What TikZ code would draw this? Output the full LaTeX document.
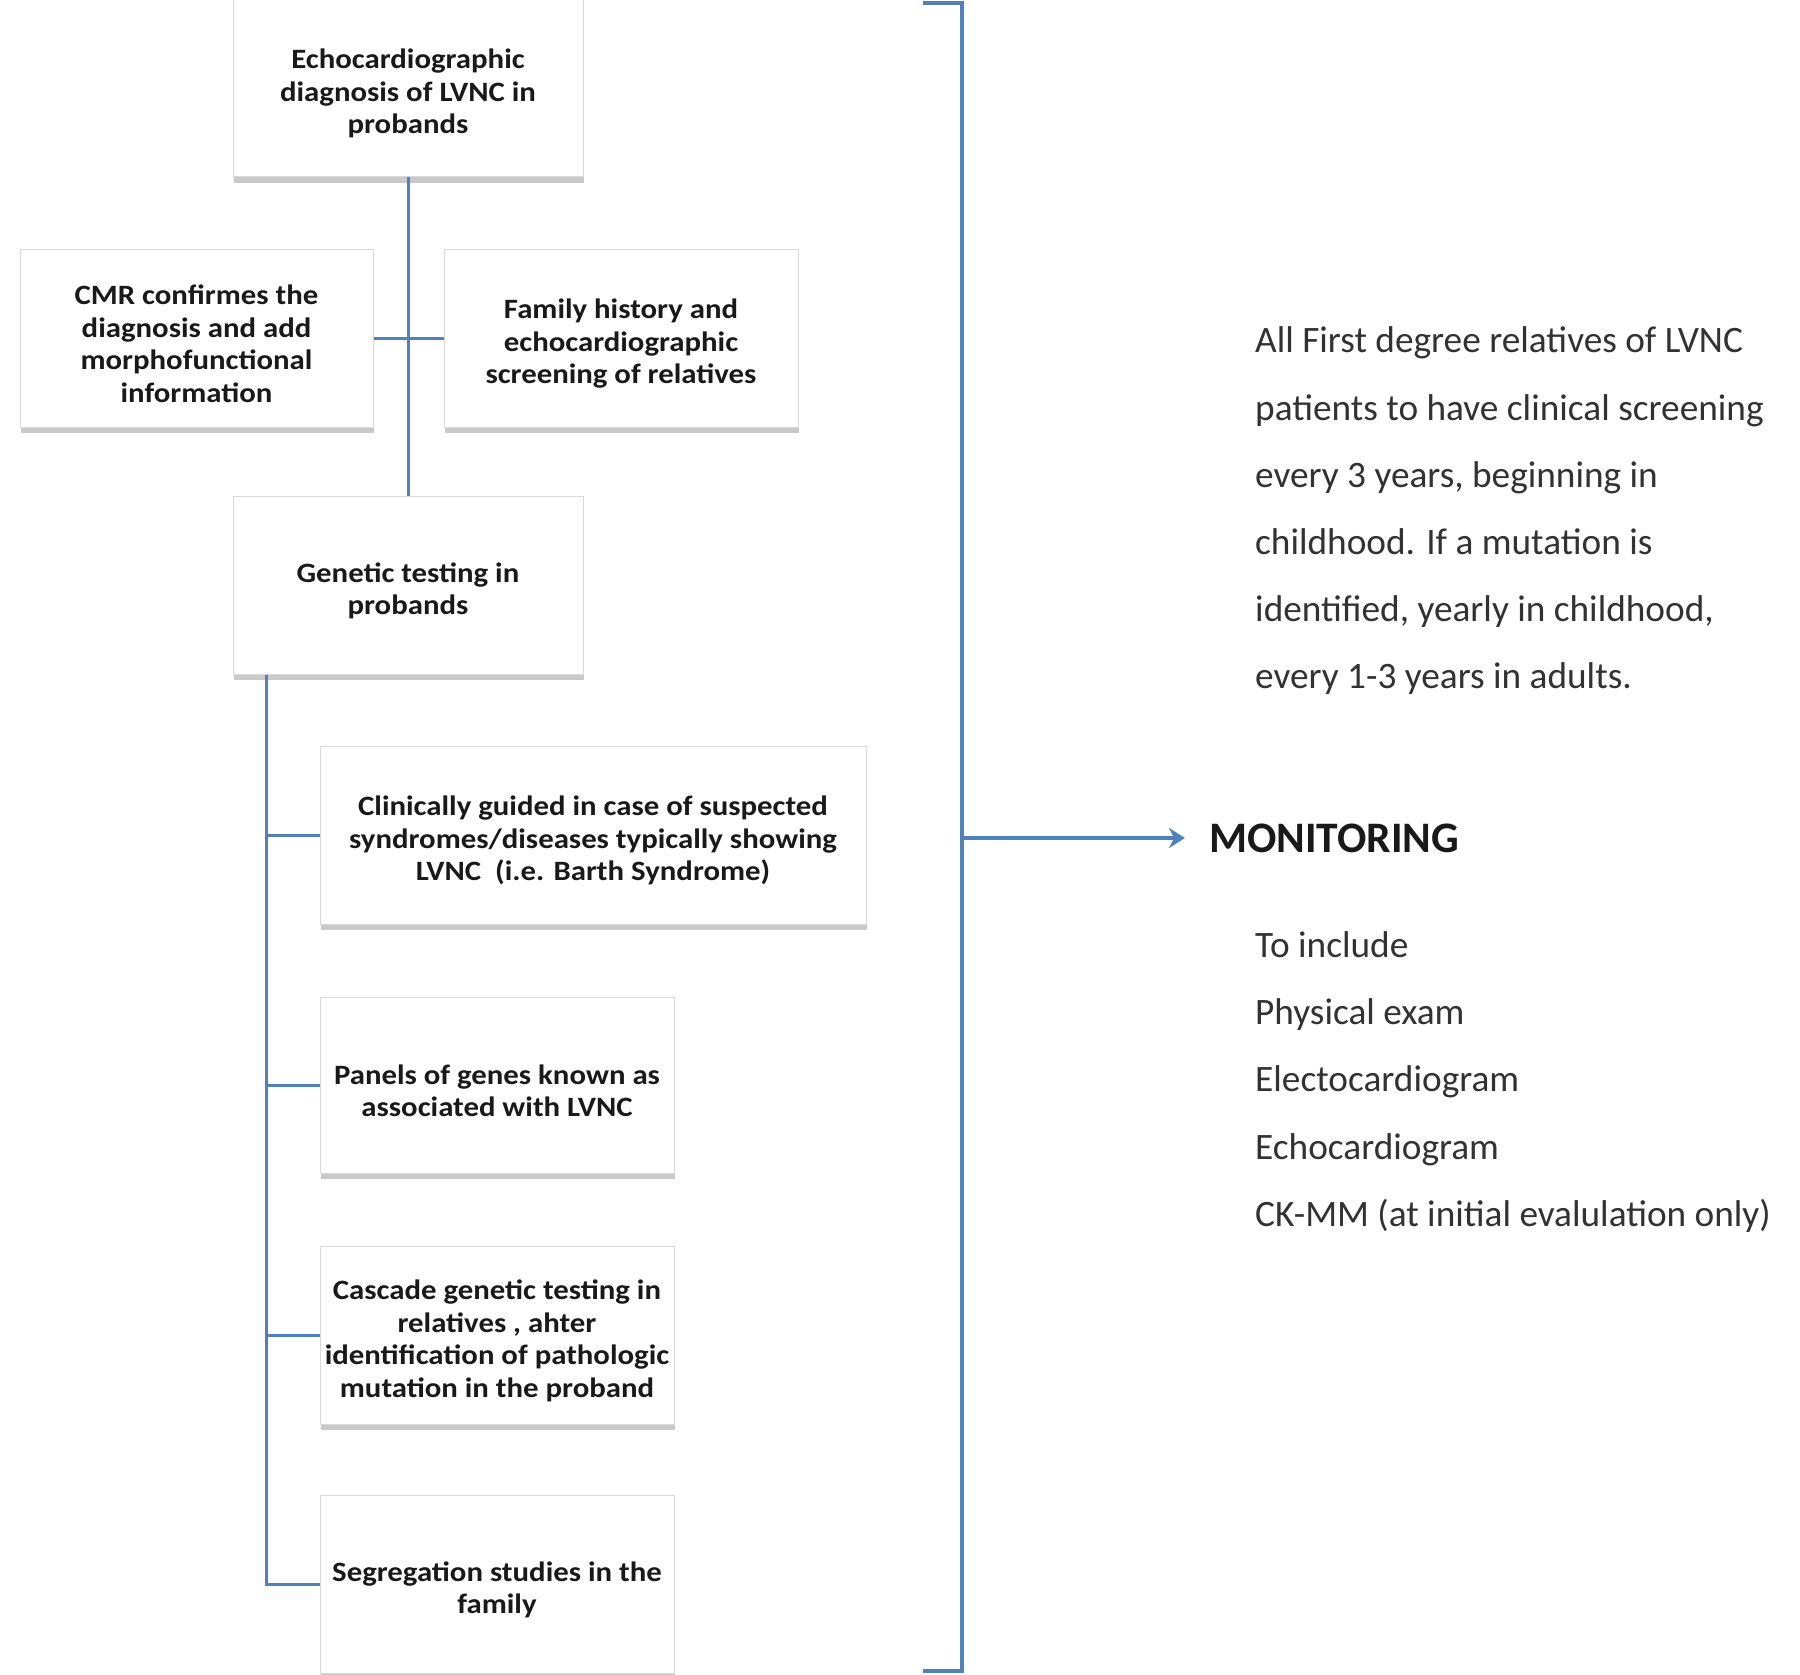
\documentclass[tikz,border=0pt]{standalone}
\usepackage{fontspec}
\setmainfont{Carlito}
\newfontfamily\boxfont[FakeStretch=1.1]{Carlito}
\usetikzlibrary{shadows,arrows.meta}
\definecolor{lineblue}{RGB}{79,129,189}
\definecolor{txtgray}{RGB}{50,50,50}
\newcommand{\boxstrut}{\rule{0pt}{31pt}}
\tikzset{
  box/.style={rectangle, fill=white, draw=gray!30, line width=1pt, inner sep=0pt,
    align=center, font=\boxfont\bfseries\fontsize{28}{32.5}\selectfont, text=black!90,
    drop shadow={shadow xshift=1pt, shadow yshift=-6pt, fill=gray!70, opacity=0.6}},
  conn/.style={draw=lineblue, line width=3pt},
  brace/.style={draw=lineblue, line width=4pt},
  plain/.style={inner sep=0pt, align=left, text=txtgray, font=\fontsize{37.3}{67.2}\selectfont}
}
\begin{document}
\begin{tikzpicture}[x=1pt,y=-1pt]
\useasboundingbox (0,0) rectangle (1800,1675);
\clip (0,0) rectangle (1800,1675);
\fill[white] (0,0) rectangle (1800,1675);

\node[box, minimum width=350, minimum height=180] (top) at (408,87) {\rule{0pt}{33pt}Echocardiographic\\diagnosis of LVNC in\\probands};
\node[box, minimum width=353, minimum height=178] (cmr) at (196.5,338) {\boxstrut CMR confirmes the\\diagnosis and add\\morphofunctional\\information};
\node[box, minimum width=354, minimum height=178] (fam) at (621,338) {\boxstrut Family history and\\echocardiographic\\screening of relatives};
\node[box, minimum width=350, minimum height=178] (gen) at (408,585) {\boxstrut Genetic testing in\\probands};
\node[box, minimum width=546, minimum height=178] (cli) at (593,835) {\boxstrut Clinically guided in case of suspected\\syndromes/diseases typically showing\\LVNC\ \ (i.e. Barth Syndrome)};
\node[box, minimum width=354, minimum height=176] (pan) at (497,1085) {\boxstrut Panels of genes known as\\associated with LVNC};
\node[box, minimum width=354, minimum height=178] (cas) at (497,1335) {\boxstrut Cascade genetic testing in\\relatives , ahter\\identification of pathologic\\mutation in the proband};
\node[box, minimum width=354, minimum height=178] (seg) at (497,1584) {\boxstrut Segregation studies in the\\family};

\draw[conn] (top) -- (gen);
\draw[conn] (cmr) -- (fam);
\coordinate (tk) at ([xshift=34pt]gen.south west);
\draw[conn] (tk) |- (seg.west);
\draw[conn] (tk |- cli.west) -- (cli.west);
\draw[conn] (tk |- pan.west) -- (pan.west);
\draw[conn] (tk |- cas.west) -- (cas.west);

% bracket
\coordinate (bt) at (923,3);
\coordinate (bb) at (923,1671);
\coordinate (bm) at (962,838);
\draw[brace, line join=miter] (bt) -- (962,3) -- (962,1671) -- (bb);

\node[inner sep=0pt, anchor=west, font=\bfseries\fontsize{43.5}{50}\selectfont, text=black!90] (mon) at (1209,838) {MONITORING};
\draw[brace, -{Stealth[length=16pt,width=20pt]}, shorten >=24pt] (bm) -- (mon.west);

\node[plain, anchor=west] (para) at (1255,511) {All First degree relatives of LVNC\\patients to have clinical screening\\every 3 years, beginning in\\childhood. If a mutation is\\identified, yearly in childhood,\\every 1-3 years in adults.};
\node[plain, anchor=west] (list) at (1255,1082) {To include\\Physical exam\\Electocardiogram\\Echocardiogram\\CK-MM (at initial evalulation only)};
\end{tikzpicture}
\end{document}
